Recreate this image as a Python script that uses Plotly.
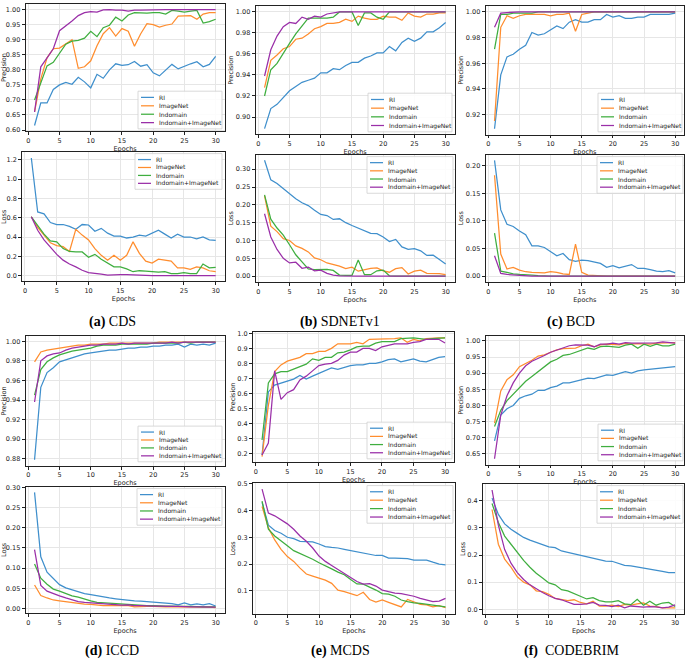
import plotly.graph_objects as go

W, H = 685, 660
epochs = list(range(1, 31))
series_names = ["RI", "ImageNet", "Indomain", "Indomain+ImageNet"]
series_colors = ["#3f8fcc", "#ff8d2e", "#3fae3f", "#9a2fa8"]

# ---------------- (a) CDS ----------------
cds_prec_ri = [0.615,0.69,0.69,0.735,0.75,0.758,0.752,0.775,0.76,0.74,0.785,0.772,0.80,0.82,0.815,0.817,0.828,0.812,0.817,0.79,0.78,0.80,0.818,0.803,0.812,0.82,0.827,0.81,0.818,0.845]
cds_prec_imagenet = [0.66,0.77,0.84,0.87,0.872,0.885,0.90,0.805,0.81,0.83,0.88,0.92,0.94,0.912,0.937,0.928,0.878,0.92,0.953,0.95,0.942,0.948,0.952,0.978,0.978,0.98,0.968,0.985,0.99,0.99]
cds_prec_indomain = [0.70,0.76,0.813,0.825,0.855,0.885,0.895,0.898,0.905,0.928,0.91,0.94,0.948,0.975,0.962,0.982,0.99,0.988,0.988,0.99,0.99,0.985,0.997,0.995,0.992,0.995,0.997,0.955,0.96,0.968]
cds_prec_both = [0.66,0.81,0.84,0.87,0.93,0.945,0.962,0.98,0.99,0.993,0.992,0.999,1.0,0.998,0.998,0.995,0.998,0.998,0.999,1.0,1.0,1.0,1.0,1.0,1.0,1.0,1.0,1.0,1.0,1.0]
cds_loss_ri = [1.22,0.66,0.64,0.55,0.53,0.53,0.51,0.48,0.53,0.525,0.46,0.49,0.44,0.41,0.41,0.39,0.40,0.42,0.41,0.44,0.47,0.43,0.39,0.43,0.40,0.40,0.38,0.40,0.37,0.365]
cds_loss_imagenet = [0.61,0.50,0.42,0.34,0.31,0.30,0.25,0.48,0.42,0.37,0.28,0.21,0.16,0.21,0.16,0.21,0.35,0.23,0.15,0.13,0.17,0.16,0.15,0.08,0.08,0.065,0.09,0.08,0.05,0.04]
cds_loss_indomain = [0.61,0.52,0.43,0.36,0.35,0.28,0.25,0.245,0.245,0.19,0.22,0.17,0.13,0.09,0.09,0.07,0.04,0.05,0.045,0.04,0.035,0.04,0.02,0.02,0.03,0.02,0.02,0.12,0.08,0.085]
cds_loss_both = [0.61,0.47,0.37,0.29,0.22,0.16,0.12,0.09,0.055,0.03,0.025,0.015,0.005,0.01,0.01,0.01,0.005,0.003,0.002,0.0,0.0,0.0,0.0,0.0,0.0,0.0,0.0,0.0,0.0,0.0]

# ---------------- (b) SDNETv1 ----------------
sdnet_prec_ri = [0.889,0.908,0.912,0.918,0.925,0.929,0.933,0.935,0.937,0.942,0.942,0.946,0.945,0.949,0.952,0.952,0.956,0.958,0.961,0.961,0.967,0.963,0.971,0.975,0.972,0.975,0.981,0.981,0.985,0.990]
sdnet_prec_imagenet = [0.928,0.954,0.959,0.965,0.967,0.974,0.975,0.979,0.984,0.986,0.989,0.989,0.990,0.993,0.991,0.996,0.994,0.993,0.993,0.996,0.995,0.995,0.992,0.999,0.996,0.995,0.998,0.998,0.999,0.999]
sdnet_prec_indomain = [0.920,0.945,0.951,0.961,0.970,0.979,0.987,0.994,0.994,0.994,0.994,0.995,1.0,1.0,1.0,0.987,0.999,0.999,0.995,0.993,1.0,1.0,1.0,1.0,1.0,1.0,1.0,1.0,1.0,1.0]
sdnet_prec_both = [0.939,0.964,0.977,0.986,0.990,0.989,0.995,0.993,0.996,0.995,0.998,0.999,1.0,1.0,1.0,1.0,1.0,1.0,1.0,1.0,1.0,1.0,1.0,1.0,1.0,1.0,1.0,1.0,1.0,1.0]
sdnet_loss_ri = [0.325,0.27,0.26,0.245,0.23,0.217,0.206,0.198,0.185,0.173,0.170,0.159,0.161,0.150,0.142,0.135,0.128,0.120,0.119,0.110,0.097,0.103,0.082,0.075,0.077,0.071,0.058,0.059,0.047,0.034]
sdnet_loss_imagenet = [0.225,0.14,0.125,0.105,0.10,0.085,0.078,0.068,0.051,0.046,0.037,0.033,0.028,0.021,0.025,0.014,0.019,0.022,0.023,0.015,0.011,0.021,0.024,0.006,0.014,0.017,0.008,0.008,0.007,0.004]
sdnet_loss_indomain = [0.228,0.16,0.135,0.115,0.088,0.06,0.04,0.02,0.018,0.019,0.019,0.016,0.003,0.002,0.002,0.045,0.004,0.004,0.015,0.017,0.001,0.0,0.0,0.0,0.0,0.0,0.0,0.0,0.0,0.0]
sdnet_loss_both = [0.175,0.11,0.075,0.05,0.037,0.039,0.022,0.025,0.015,0.017,0.008,0.003,0.001,0.0,0.0,0.0,0.0,0.0,0.0,0.0,0.0,0.0,0.0,0.0,0.0,0.0,0.0,0.0,0.0,0.0]

# ---------------- (c) BCD ----------------
bcd_prec_ri = [0.909,0.951,0.965,0.967,0.971,0.974,0.984,0.982,0.983,0.986,0.989,0.987,0.992,0.994,0.992,0.992,0.994,0.994,0.998,0.996,0.997,0.995,0.995,0.996,0.996,0.998,0.998,0.998,0.998,0.999]
bcd_prec_imagenet = [0.915,0.988,0.997,0.995,0.997,0.998,0.998,0.998,0.998,0.997,0.998,0.998,0.999,0.985,0.998,0.999,1.0,1.0,1.0,1.0,1.0,1.0,1.0,1.0,1.0,1.0,1.0,1.0,1.0,1.0]
bcd_prec_indomain = [0.971,0.998,0.998,0.999,0.999,0.999,0.999,1.0,1.0,1.0,1.0,1.0,1.0,1.0,1.0,1.0,1.0,1.0,1.0,1.0,1.0,1.0,1.0,1.0,1.0,1.0,1.0,1.0,1.0,1.0]
bcd_prec_both = [0.988,0.999,0.9995,1.0,1.0,1.0,1.0,1.0,1.0,1.0,1.0,1.0,1.0,1.0,1.0,1.0,1.0,1.0,1.0,1.0,1.0,1.0,1.0,1.0,1.0,1.0,1.0,1.0,1.0,1.0]
bcd_loss_ri = [0.21,0.12,0.094,0.09,0.082,0.075,0.055,0.055,0.052,0.045,0.037,0.041,0.03,0.027,0.029,0.028,0.025,0.023,0.016,0.019,0.015,0.018,0.021,0.014,0.014,0.012,0.009,0.008,0.01,0.006]
bcd_loss_imagenet = [0.183,0.04,0.013,0.016,0.011,0.008,0.007,0.007,0.006,0.008,0.007,0.004,0.003,0.058,0.007,0.002,0.001,0.0,0.0,0.0,0.0,0.0,0.0,0.0,0.0,0.0,0.0,0.0,0.0,0.0]
bcd_loss_indomain = [0.078,0.009,0.007,0.004,0.003,0.003,0.002,0.001,0.0,0.0,0.0,0.0,0.0,0.0,0.0,0.0,0.0,0.0,0.0,0.0,0.0,0.0,0.0,0.0,0.0,0.0,0.0,0.0,0.0,0.0]
bcd_loss_both = [0.037,0.005,0.003,0.002,0.001,0.0,0.0,0.0,0.0,0.0,0.0,0.0,0.0,0.0,0.0,0.0,0.0,0.0,0.0,0.0,0.0,0.0,0.0,0.0,0.0,0.0,0.0,0.0,0.0,0.0]

# ---------------- (d) ICCD ----------------
iccd_prec_ri = [0.879,0.953,0.968,0.973,0.979,0.981,0.983,0.985,0.987,0.988,0.989,0.990,0.991,0.991,0.992,0.993,0.993,0.994,0.994,0.995,0.995,0.996,0.996,0.997,0.994,0.997,0.996,0.997,0.996,0.998]
iccd_prec_imagenet = [0.979,0.989,0.991,0.992,0.993,0.994,0.995,0.996,0.996,0.997,0.997,0.997,0.998,0.998,0.998,0.998,0.998,0.998,0.998,0.998,0.999,0.999,0.999,0.999,0.999,0.999,0.999,0.999,0.999,0.999]
iccd_prec_indomain = [0.945,0.971,0.979,0.983,0.986,0.988,0.990,0.991,0.992,0.993,0.995,0.996,0.996,0.996,0.997,0.997,0.997,0.997,0.997,0.998,0.998,0.998,0.998,0.998,0.999,0.998,0.999,0.999,0.999,0.999]
iccd_prec_both = [0.938,0.980,0.985,0.987,0.988,0.991,0.993,0.994,0.995,0.996,0.996,0.997,0.997,0.997,0.998,0.997,0.998,0.998,0.998,0.998,0.998,0.998,0.999,0.998,0.999,0.999,0.999,0.999,0.999,0.999]
iccd_loss_ri = [0.288,0.128,0.09,0.074,0.059,0.051,0.046,0.042,0.037,0.034,0.031,0.028,0.026,0.024,0.022,0.021,0.019,0.018,0.017,0.016,0.015,0.013,0.012,0.009,0.014,0.009,0.011,0.009,0.012,0.006]
iccd_loss_imagenet = [0.058,0.032,0.026,0.021,0.019,0.017,0.015,0.012,0.011,0.010,0.008,0.007,0.007,0.007,0.006,0.007,0.004,0.005,0.005,0.005,0.004,0.004,0.004,0.004,0.003,0.004,0.003,0.003,0.003,0.002]
iccd_loss_indomain = [0.11,0.075,0.06,0.048,0.043,0.037,0.031,0.028,0.023,0.019,0.015,0.014,0.013,0.011,0.010,0.010,0.008,0.008,0.007,0.007,0.006,0.006,0.006,0.005,0.005,0.005,0.004,0.004,0.004,0.004]
iccd_loss_both = [0.146,0.057,0.043,0.036,0.031,0.026,0.021,0.017,0.015,0.014,0.012,0.011,0.010,0.009,0.008,0.009,0.007,0.007,0.006,0.006,0.006,0.005,0.005,0.005,0.004,0.004,0.004,0.004,0.003,0.003]

# ---------------- (e) MCDS ----------------
mcds_prec_ri = [0.19,0.61,0.655,0.67,0.68,0.695,0.72,0.695,0.715,0.735,0.75,0.77,0.76,0.775,0.785,0.79,0.79,0.80,0.80,0.81,0.825,0.83,0.81,0.82,0.83,0.815,0.81,0.825,0.84,0.845]
mcds_prec_imagenet = [0.18,0.52,0.745,0.79,0.815,0.83,0.84,0.865,0.865,0.88,0.88,0.90,0.93,0.93,0.93,0.94,0.93,0.96,0.96,0.96,0.96,0.965,0.97,0.94,0.96,0.95,0.965,0.97,0.97,0.97]
mcds_prec_indomain = [0.29,0.67,0.73,0.745,0.745,0.76,0.775,0.795,0.83,0.82,0.84,0.84,0.87,0.875,0.89,0.91,0.915,0.915,0.935,0.945,0.945,0.945,0.965,0.97,0.97,0.965,0.96,0.965,0.965,0.97]
mcds_prec_both = [0.19,0.27,0.75,0.56,0.605,0.625,0.69,0.715,0.75,0.785,0.795,0.80,0.82,0.855,0.875,0.875,0.90,0.90,0.885,0.91,0.92,0.93,0.93,0.93,0.94,0.945,0.96,0.96,0.96,0.935]
mcds_loss_ri = [0.43,0.345,0.325,0.315,0.30,0.295,0.285,0.285,0.283,0.275,0.265,0.262,0.26,0.255,0.25,0.245,0.24,0.235,0.232,0.232,0.222,0.222,0.222,0.22,0.215,0.215,0.215,0.207,0.20,0.197]
mcds_loss_imagenet = [0.415,0.335,0.29,0.255,0.228,0.21,0.185,0.163,0.155,0.148,0.14,0.128,0.103,0.097,0.09,0.082,0.095,0.068,0.058,0.066,0.057,0.048,0.04,0.068,0.058,0.05,0.048,0.04,0.045,0.037]
mcds_loss_indomain = [0.435,0.33,0.305,0.285,0.268,0.25,0.24,0.23,0.218,0.205,0.195,0.182,0.17,0.16,0.142,0.126,0.125,0.115,0.103,0.09,0.088,0.08,0.066,0.06,0.055,0.053,0.05,0.047,0.045,0.04]
mcds_loss_both = [0.48,0.39,0.38,0.365,0.35,0.33,0.305,0.285,0.26,0.23,0.21,0.195,0.18,0.165,0.148,0.135,0.125,0.127,0.118,0.103,0.097,0.092,0.09,0.085,0.08,0.072,0.066,0.06,0.062,0.072]

# ---------------- (f) CODEBRIM ----------------
codebrim_prec_ri = [0.69,0.77,0.79,0.80,0.822,0.83,0.835,0.847,0.847,0.855,0.86,0.87,0.87,0.875,0.878,0.885,0.883,0.888,0.895,0.893,0.90,0.905,0.90,0.907,0.91,0.912,0.914,0.917,0.919,0.92]
codebrim_prec_imagenet = [0.745,0.845,0.88,0.895,0.92,0.93,0.94,0.953,0.957,0.965,0.972,0.976,0.978,0.978,0.985,0.99,0.982,0.988,0.99,0.99,0.988,0.992,0.99,0.992,0.99,0.99,0.993,0.994,0.995,0.995]
codebrim_prec_indomain = [0.735,0.785,0.815,0.835,0.855,0.875,0.89,0.905,0.92,0.935,0.943,0.955,0.958,0.965,0.97,0.978,0.974,0.982,0.984,0.983,0.98,0.987,0.99,0.977,0.99,0.983,0.99,0.985,0.985,0.99]
codebrim_prec_both = [0.635,0.77,0.83,0.87,0.90,0.923,0.937,0.945,0.955,0.965,0.972,0.977,0.985,0.988,0.988,0.987,0.982,0.99,0.99,0.993,0.99,0.995,0.993,0.993,0.994,0.993,0.994,0.997,0.995,0.993]
codebrim_loss_ri = [0.41,0.35,0.315,0.295,0.28,0.265,0.255,0.247,0.24,0.23,0.227,0.215,0.21,0.205,0.198,0.193,0.19,0.185,0.178,0.177,0.17,0.162,0.16,0.156,0.152,0.15,0.145,0.14,0.135,0.135]
codebrim_loss_imagenet = [0.368,0.24,0.185,0.155,0.12,0.10,0.09,0.068,0.065,0.055,0.04,0.035,0.032,0.035,0.025,0.02,0.03,0.012,0.012,0.015,0.01,0.018,0.015,0.02,0.023,0.012,0.01,0.005,0.006,0.005]
codebrim_loss_indomain = [0.39,0.32,0.27,0.24,0.21,0.18,0.155,0.133,0.115,0.097,0.09,0.072,0.068,0.058,0.048,0.038,0.043,0.032,0.027,0.027,0.032,0.02,0.017,0.037,0.015,0.03,0.015,0.023,0.025,0.01]
codebrim_loss_both = [0.44,0.31,0.22,0.17,0.135,0.11,0.09,0.075,0.062,0.05,0.04,0.035,0.025,0.018,0.018,0.02,0.025,0.015,0.014,0.01,0.015,0.005,0.012,0.01,0.008,0.01,0.009,0.005,0.008,0.016]

captions = ["<b>(a)</b> CDS", "<b>(b)</b> SDNETv1", "<b>(c)</b> BCD",
            "<b>(d)</b> ICCD", "<b>(e)</b> MCDS", "<b>(f)</b>  CODEBRIM"]

# layout: pixel boxes (x0, y0, x1, y1), tick spacing, tick format, legend box
panels = [
    dict(prec=[cds_prec_ri, cds_prec_imagenet, cds_prec_indomain, cds_prec_both],
         loss=[cds_loss_ri, cds_loss_imagenet, cds_loss_indomain, cds_loss_both],
         pbox=(25.5, 0.8, 224.7, 129.5), lbox=(22.1, 150.5, 224.9, 281.0),
         pd=0.05, pf=".2f", ld=0.2, lf=".1f",
         pleg=(138, 89, 222, 127), lleg=(135, 152, 222, 188), cap=(112, 322)),
    dict(prec=[sdnet_prec_ri, sdnet_prec_imagenet, sdnet_prec_indomain, sdnet_prec_both],
         loss=[sdnet_loss_ri, sdnet_loss_imagenet, sdnet_loss_indomain, sdnet_loss_both],
         pbox=(255.5, 3.1, 454.7, 132.6), lbox=(255.5, 152.9, 454.7, 281.5),
         pd=0.02, pf=".2f", ld=0.05, lf=".2f",
         pleg=(368, 91, 452, 130), lleg=(367, 155, 453, 192), cap=(340, 322)),
    dict(prec=[bcd_prec_ri, bcd_prec_imagenet, bcd_prec_indomain, bcd_prec_both],
         loss=[bcd_loss_ri, bcd_loss_imagenet, bcd_loss_indomain, bcd_loss_both],
         pbox=(485.5, 3.1, 684.2, 132.8), lbox=(485.5, 152.9, 684.2, 281.5),
         pd=0.02, pf=".2f", ld=0.05, lf=".2f",
         pleg=(598, 91, 682, 130), lleg=(597, 155, 683, 192), cap=(571, 322)),
    dict(prec=[iccd_prec_ri, iccd_prec_imagenet, iccd_prec_indomain, iccd_prec_both],
         loss=[iccd_loss_ri, iccd_loss_imagenet, iccd_loss_indomain, iccd_loss_both],
         pbox=(25.5, 336.4, 224.7, 466.9), lbox=(25.5, 488.0, 224.7, 616.0),
         pd=0.02, pf=".2f", ld=0.05, lf=".2f",
         pleg=(138, 427, 222, 463), lleg=(137, 490, 222, 527), cap=(112, 654)),
    dict(prec=[mcds_prec_ri, mcds_prec_imagenet, mcds_prec_indomain, mcds_prec_both],
         loss=[mcds_loss_ri, mcds_loss_imagenet, mcds_loss_indomain, mcds_loss_both],
         pbox=(252.9, 331.9, 454.2, 463.7), lbox=(252.9, 484.5, 454.7, 616.3),
         pd=0.1, pf=".1f", ld=0.1, lf=".1f",
         pleg=(367, 423, 452, 460), lleg=(367, 487, 453, 525), cap=(340, 654)),
    dict(prec=[codebrim_prec_ri, codebrim_prec_imagenet, codebrim_prec_indomain, codebrim_prec_both],
         loss=[codebrim_loss_ri, codebrim_loss_imagenet, codebrim_loss_indomain, codebrim_loss_both],
         pbox=(485.5, 336.1, 684.2, 465.8), lbox=(482.9, 485.5, 684.2, 616.4),
         pd=0.05, pf=".2f", ld=0.1, lf=".1f",
         pleg=(598, 425, 683, 462), lleg=(597, 487, 683, 525), cap=(571, 654)),
]

FONT = "DejaVu Sans"
fig = go.Figure()
shapes, annotations = [], []


def px(x):
    return x / W


def py(y):
    return 1 - y / H


def add_axes(idx, box, series, dtick, fmt, ytitle, legbox):
    sfx = "" if idx == 1 else str(idx)
    x0, y0, x1, y1 = box
    allv = [v for s in series for v in s]
    lo, hi = min(allv), max(allv)
    pad = 0.05 * (hi - lo)
    for name, col, vals in zip(series_names, series_colors, series):
        fig.add_trace(go.Scatter(x=epochs, y=vals, mode="lines", name=name,
                                 line=dict(color=col, width=1.25),
                                 xaxis="x" + sfx, yaxis="y" + sfx, showlegend=False,
                                 hoverinfo="skip"))
    common = dict(showline=True, mirror=True, linecolor="#222", linewidth=0.8,
                  ticks="outside", ticklen=3, tickwidth=0.8, tickcolor="#222",
                  showgrid=True, gridcolor="#e6e6e6", gridwidth=0.8, zeroline=False,
                  tickfont=dict(family=FONT, size=6.5, color="#222"))
    fig.update_layout(**{
        "xaxis" + sfx: dict(domain=[px(x0), px(x1)], anchor="y" + sfx,
                            range=[-0.45, 31.45], tick0=0, dtick=5,
                            title=dict(text="Epochs", standoff=1.5,
                                       font=dict(family=FONT, size=6.5, color="#222")),
                            **common),
        "yaxis" + sfx: dict(domain=[py(y1), py(y0)], anchor="x" + sfx,
                            range=[lo - pad, hi + pad], tick0=0, dtick=dtick,
                            tickformat=fmt,
                            title=dict(text=ytitle, standoff=1,
                                       font=dict(family=FONT, size=6.5, color="#222")),
                            **common),
    })
    # legend box (drawn in paper coordinates)
    lx0, ly0, lx1, ly1 = legbox
    shapes.append(dict(type="rect", xref="paper", yref="paper", layer="above",
                       x0=px(lx0), x1=px(lx1), y0=py(ly1), y1=py(ly0),
                       fillcolor="rgba(255,255,255,0.85)",
                       line=dict(color="#cfcfcf", width=0.8)))
    step = (ly1 - ly0 - 4) / 4.0
    for j, (name, col) in enumerate(zip(series_names, series_colors)):
        yc = ly0 + 2 + step * (j + 0.5)
        shapes.append(dict(type="line", xref="paper", yref="paper", layer="above",
                           x0=px(lx0 + 3), x1=px(lx0 + 16), y0=py(yc), y1=py(yc),
                           line=dict(color=col, width=1.25)))
        annotations.append(dict(xref="paper", yref="paper", x=px(lx0 + 19), y=py(yc),
                                xanchor="left", yanchor="middle", showarrow=False,
                                text=name, font=dict(family=FONT, size=6, color="#222")))


for i, p in enumerate(panels):
    add_axes(2 * i + 1, p["pbox"], p["prec"], p["pd"], p["pf"], "Precision", p["pleg"])
    add_axes(2 * i + 2, p["lbox"], p["loss"], p["ld"], p["lf"], "Loss", p["lleg"])
    cx, cy = p["cap"]
    annotations.append(dict(xref="paper", yref="paper", x=px(cx), y=py(cy),
                            xanchor="center", yanchor="middle", showarrow=False,
                            text=captions[i],
                            font=dict(family="Liberation Serif", size=14, color="black")))

fig.update_layout(width=W, height=H, margin=dict(l=0, r=0, t=0, b=0),
                  paper_bgcolor="white", plot_bgcolor="white",
                  shapes=shapes, annotations=annotations, showlegend=False)

fig.write_html("out.html", config={"displayModeBar": False},
               post_script="document.body.style.margin='0px';"
                           "document.body.style.overflow='hidden';")
